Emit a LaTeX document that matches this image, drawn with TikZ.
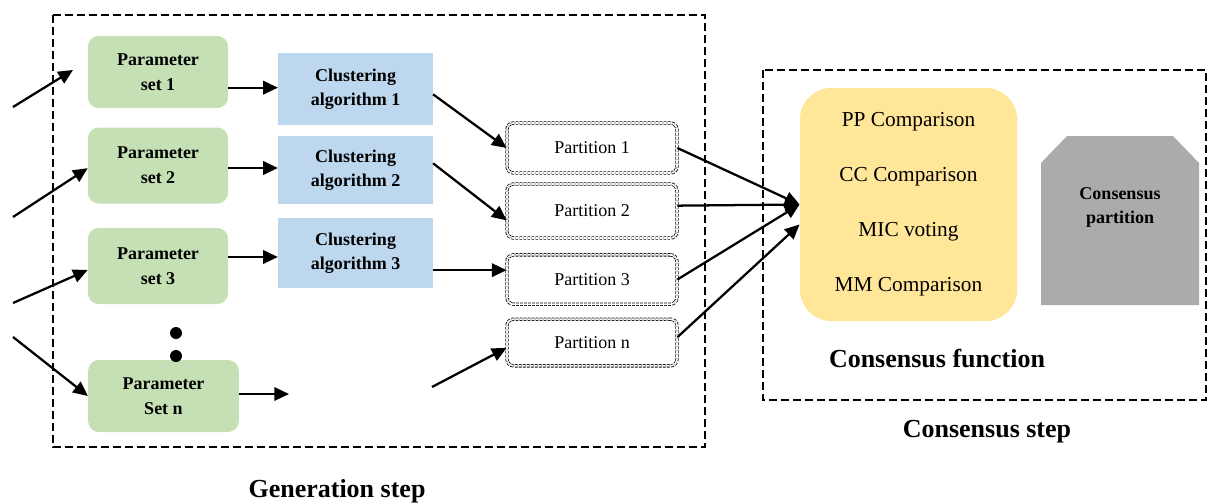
\documentclass[tikz,border=0pt]{standalone}
\usepackage{fontspec}
\setmainfont{Liberation Serif}
\usetikzlibrary{arrows.meta}
\definecolor{pgreen}{HTML}{C5E0B4}
\definecolor{pblue}{HTML}{BDD7EE}
\definecolor{pyellow}{HTML}{FFE699}
\definecolor{pgrey}{HTML}{ABABAB}
\tikzset{
  stepframe/.style={draw=black,line width=2pt,dash pattern=on 6pt off 3pt},
  parambox/.style={fill=pgreen,rounded corners=8pt,align=center,font=\fontsize{13.5}{18.5}\selectfont\bfseries,inner sep=0pt},
  clustbox/.style={fill=pblue,align=center,font=\fontsize{13.5}{18}\selectfont\bfseries,inner sep=0pt},
  partbox/.style={draw=black,double,double distance=1.3pt,line width=0.6pt,dash pattern=on 2pt off 1pt,rounded corners=5pt,font=\fontsize{13.5}{16}\selectfont,inner sep=0pt,minimum width=127.5pt},
  arr/.style={line width=1.7pt,-{Triangle[length=11pt,width=10pt]}},
  dotnode/.style={circle,fill=black,inner sep=0pt,minimum size=9pt},
  biglabel/.style={font=\fontsize{19.5}{22}\selectfont\bfseries}
}
\begin{document}
\begin{tikzpicture}[x=0.75pt,y=-0.75pt]
\useasboundingbox (0,0) rectangle (1209,503);
% frames
\draw[stepframe] (53,15) rectangle (705,447);
\draw[stepframe] (763,70) rectangle (1206,400);
% parameter sets
\node[parambox,minimum width=105pt,minimum height=54pt] (p1) at (158,72) {Parameter\\set 1};
\node[parambox,minimum width=105pt,minimum height=57pt] (p2) at (158,165.5) {Parameter\\set 2};
\node[parambox,minimum width=105pt,minimum height=57pt] (p3) at (158,266) {Parameter\\set 3};
\node[parambox,minimum width=113pt,minimum height=54pt] (pn) at (163.5,396) {Parameter\\Set n};
\node[dotnode] (d1) at (176,333) {};
\node[dotnode] (d2) at (176,356) {};
% clustering algorithms
\node[clustbox,minimum width=116pt,minimum height=54pt] (c1) at (355.5,89) {Clustering\\algorithm 1};
\node[clustbox,minimum width=116pt,minimum height=51pt] (c2) at (355.5,170) {Clustering\\algorithm 2};
\node[clustbox,minimum width=116pt,minimum height=52.5pt] (c3) at (355.5,253) {Clustering\\algorithm 3};
% partitions
\node[partbox,minimum height=37.5pt] (q1) at (592,148) {Partition 1};
\node[partbox,minimum height=40.5pt] (q2) at (592,211) {Partition 2};
\node[partbox,minimum height=37pt] (q3) at (592,279.5) {Partition 3};
\node[partbox,minimum height=35pt] (qn) at (592,342.5) {Partition n};
% consensus function
\node[fill=pyellow,rounded corners=24pt,minimum width=163pt,minimum height=175pt,align=center,inner sep=0pt,font=\fontsize{16}{41.25}\selectfont] (cf) at (908.5,204.5) {PP Comparison\\CC Comparison\\MIC voting\\MM Comparison};
% consensus partition
\fill[pgrey] (1041,305) -- (1041,163) -- (1067,136) -- (1173,136) -- (1199,163) -- (1199,305) -- cycle;
\node[align=center,font=\fontsize{13.5}{18}\selectfont\bfseries,inner sep=0pt] (cpt) at (1120,207) {Consensus\\partition};
% labels
\node[biglabel] (gl) at (337,491) {Generation step};
\node[biglabel] (cfl) at (937,359) {Consensus function};
\node[biglabel] (csl) at (987,432) {Consensus step};
% free coordinates
\coordinate (i1s) at (13,107);
\coordinate (i1e) at (73,70);
\coordinate (i2s) at (13,217);
\coordinate (i3s) at (13,303);
\coordinate (i4s) at (13,337);
\coordinate (pne) at (289,394);
\coordinate (qns) at (432,387);
% input arrows
\draw[arr] (i1s) -- (i1e);
\draw[arr] (i2s) -- ([yshift=-2pt]p2.west);
\draw[arr] (i3s) -- ([yshift=-3pt]p3.west);
\draw[arr] (i4s) -- (pn.west);
% parameter -> clustering
\draw[arr] ([yshift=1pt]c1.west -| p1.east) -- ([yshift=1pt]c1.west);
\draw[arr] ([yshift=1.5pt]c2.west -| p2.east) -- ([yshift=1.5pt]c2.west);
\draw[arr] ([yshift=-3pt]c3.west -| p3.east) -- ([yshift=-3pt]c3.west);
\draw[arr] (pn.east |- pne) -- (pne);
% clustering -> partitions
\coordinate (q3in) at ([yshift=7pt]q3.west);
\draw[arr] ([yshift=-4pt]c1.east) -- (q1.west);
\draw[arr] ([yshift=5pt]c2.east) -- ([yshift=-7pt]q2.west);
\draw[arr] (q3in -| c3.east) -- (q3in);
\draw[arr] (qns) -- ([yshift=-4pt]qn.west);
% partitions -> consensus function
\draw[arr] (q1.east) -- (cf.west);
\draw[arr] ([yshift=4pt]q2.east) -- (cf.west);
\draw[arr] (q3.east) -- (cf.west);
\draw[arr] ([yshift=4pt]qn.east) -- ([yshift=-15pt]cf.west);
\end{tikzpicture}
\end{document}
